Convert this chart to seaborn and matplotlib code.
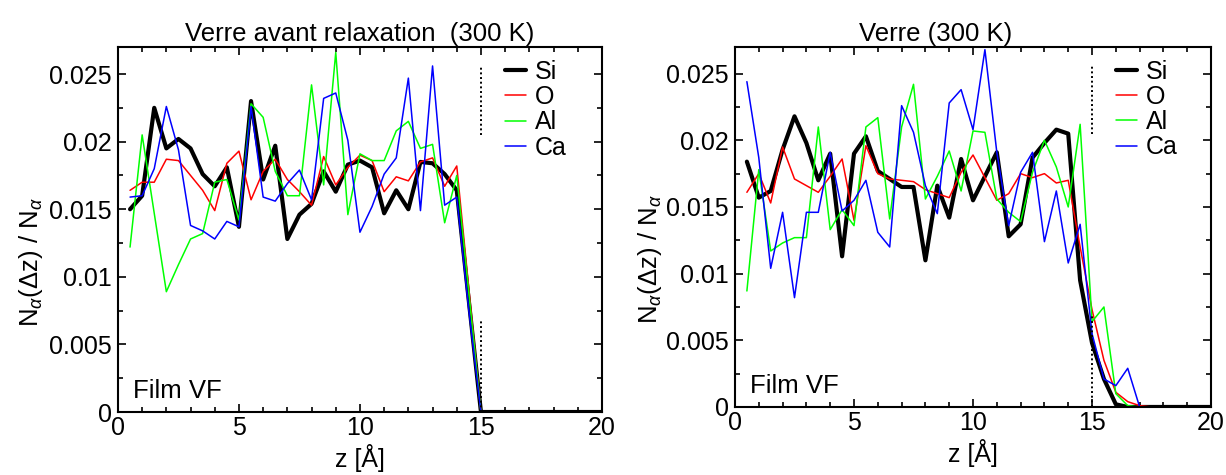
import numpy as np
import pandas as pd
import matplotlib
matplotlib.use("Agg")
import matplotlib.pyplot as plt
import seaborn as sns
from matplotlib.ticker import MultipleLocator

sns.set_theme(style="ticks")
plt.rcParams["font.family"] = ["Liberation Sans", "DejaVu Sans"]
plt.rcParams["mathtext.fontset"] = "custom"
plt.rcParams["mathtext.rm"] = "Liberation Sans"
plt.rcParams["mathtext.it"] = "Liberation Sans:italic"
plt.rcParams["text.color"] = "black"
plt.rcParams["axes.labelcolor"] = "black"
plt.rcParams["xtick.color"] = "black"
plt.rcParams["ytick.color"] = "black"

# z positions of the bins (Angstrom)
z = [0.5, 1.0, 1.5, 2.0, 2.5, 3.0, 3.5, 4.0, 4.5, 5.0,
     5.5, 6.0, 6.5, 7.0, 7.5, 8.0, 8.5, 9.0, 9.5, 10.0,
     10.5, 11.0, 11.5, 12.0, 12.5, 13.0, 13.5, 14.0, 14.5, 15.0,
     15.5, 16.0, 16.5, 17.0, 17.5, 18.0, 18.5, 19.0, 19.5, 20.0]

# left panel : verre avant relaxation
si_before = [0.0150, 0.0160, 0.0225, 0.0195, 0.0202, 0.0195, 0.0176, 0.0167, 0.0181, 0.0137,
             0.0230, 0.0172, 0.0197, 0.0128, 0.0146, 0.0154, 0.0178, 0.0163, 0.0183, 0.0186,
             0.0181, 0.0147, 0.0164, 0.0150, 0.0185, 0.0184, 0.0176, 0.0164, 0.0082, 0.0,
             0.0, 0.0, 0.0, 0.0, 0.0, 0.0, 0.0, 0.0, 0.0, 0.0]
o_before = [0.0164, 0.0170, 0.0170, 0.0187, 0.0186, 0.0175, 0.0164, 0.0149, 0.0184, 0.0193,
            0.0157, 0.0178, 0.0187, 0.0172, 0.0163, 0.0153, 0.0189, 0.0168, 0.0181, 0.0190,
            0.0186, 0.0163, 0.0174, 0.0171, 0.0185, 0.0188, 0.0167, 0.0182, 0.0091, 0.0,
            0.0, 0.0, 0.0, 0.0, 0.0, 0.0, 0.0, 0.0, 0.0, 0.0]
al_before = [0.0122, 0.0205, 0.0147, 0.0089, 0.0109, 0.0128, 0.0132, 0.0170, 0.0172, 0.0142,
             0.0228, 0.0218, 0.0178, 0.0160, 0.0160, 0.0242, 0.0168, 0.0266, 0.0146, 0.0191,
             0.0186, 0.0186, 0.0208, 0.0215, 0.0195, 0.0198, 0.0140, 0.0175, 0.0088, 0.0,
             0.0, 0.0, 0.0, 0.0, 0.0, 0.0, 0.0, 0.0, 0.0, 0.0]
ca_before = [0.0159, 0.0160, 0.0180, 0.0226, 0.0194, 0.0138, 0.0134, 0.0128, 0.0141, 0.0137,
             0.0226, 0.0159, 0.0156, 0.0169, 0.0179, 0.0157, 0.0232, 0.0236, 0.0201, 0.0133,
             0.0152, 0.0176, 0.0188, 0.0247, 0.0149, 0.0256, 0.0153, 0.0159, 0.0075, 0.0,
             0.0, 0.0, 0.0, 0.0, 0.0, 0.0, 0.0, 0.0, 0.0, 0.0]

# right panel : verre (300 K)
si_after = [0.0184, 0.0157, 0.0162, 0.0193, 0.0218, 0.0198, 0.0170, 0.0190, 0.0113, 0.0190,
            0.0203, 0.0177, 0.0171, 0.0165, 0.0165, 0.0110, 0.0166, 0.0142, 0.0186, 0.0155,
            0.0173, 0.0191, 0.0128, 0.0137, 0.0187, 0.0198, 0.0208, 0.0205, 0.0095, 0.0048,
            0.0021, 0.0002, 0.0, 0.0, 0.0, 0.0, 0.0, 0.0, 0.0, 0.0]
o_after = [0.0161, 0.0175, 0.0153, 0.0195, 0.0171, 0.0166, 0.0161, 0.0173, 0.0186, 0.0140,
           0.0196, 0.0175, 0.0171, 0.0170, 0.0169, 0.0163, 0.0160, 0.0157, 0.0176, 0.0189,
           0.0172, 0.0155, 0.0160, 0.0175, 0.0172, 0.0175, 0.0168, 0.0170, 0.0120, 0.0073,
           0.0035, 0.0011, 0.0004, 0.0001, 0.0, 0.0, 0.0, 0.0, 0.0, 0.0]
al_after = [0.0087, 0.0178, 0.0117, 0.0123, 0.0127, 0.0127, 0.0210, 0.0133, 0.0148, 0.0136,
            0.0210, 0.0217, 0.0141, 0.0210, 0.0242, 0.0156, 0.0173, 0.0192, 0.0162, 0.0207,
            0.0206, 0.0156, 0.0146, 0.0139, 0.0176, 0.0200, 0.0180, 0.0150, 0.0212, 0.0064,
            0.0075, 0.0010, 0.0001, 0.0, 0.0, 0.0, 0.0, 0.0, 0.0, 0.0]
ca_after = [0.0244, 0.0187, 0.0104, 0.0146, 0.0082, 0.0146, 0.0146, 0.0191, 0.0147, 0.0155,
            0.0170, 0.0131, 0.0120, 0.0226, 0.0206, 0.0166, 0.0145, 0.0228, 0.0238, 0.0208,
            0.0268, 0.0191, 0.0136, 0.0176, 0.0191, 0.0124, 0.0162, 0.0108, 0.0137, 0.0055,
            0.0021, 0.0016, 0.0029, 0.0, 0.0, 0.0, 0.0, 0.0, 0.0, 0.0]

elements = ["Si", "O", "Al", "Ca"]
colors = {"Si": "black", "O": "#ff0000", "Al": "#00ff00", "Ca": "#0000ff"}
widths = {"Si": 3.0, "O": 1.1, "Al": 1.1, "Ca": 1.1}

panels = [
    ("Verre avant relaxation  (300 K)", 0.5, [si_before, o_before, al_before, ca_before]),
    ("Verre (300 K)", 0.422, [si_after, o_after, al_after, ca_after]),
]
boxes = [[0.0962, 0.1326, 0.3948, 0.7684], [0.5995, 0.1432, 0.3883, 0.7579]]

fig = plt.figure(figsize=(12.26, 4.75), dpi=100)

for (title, tx, series), box in zip(panels, boxes):
    ax = fig.add_axes(box)
    df = pd.DataFrame({"z": z * 4,
                       "N": np.concatenate(series),
                       "el": np.repeat(elements, len(z))})
    for el in elements:
        sns.lineplot(data=df[df["el"] == el], x="z", y="N", color=colors[el],
                     lw=widths[el], label=el, ax=ax, sort=False, estimator=None)

    # film limits (dotted)
    ax.plot([15, 15], [0, 0.0068], color="black", lw=1.4, ls=(0, (1, 1.4)))
    ax.plot([15, 15], [0.0205, 0.0257], color="black", lw=1.4, ls=(0, (1, 1.4)))

    ax.set_xlim(0, 20)
    ax.set_ylim(0, 0.027)
    ax.xaxis.set_major_locator(MultipleLocator(5))
    ax.xaxis.set_minor_locator(MultipleLocator(1))
    ax.yaxis.set_major_locator(MultipleLocator(0.005))
    ax.yaxis.set_minor_locator(MultipleLocator(0.0025))
    ax.set_yticks([0, 0.005, 0.01, 0.015, 0.02, 0.025])
    ax.set_yticklabels(["0", "0.005", "0.01", "0.015", "0.02", "0.025"])
    ax.tick_params(which="both", direction="in", top=True, right=True,
                   width=1.2, colors="black", labelsize=18)
    ax.tick_params(which="major", length=6)
    ax.tick_params(which="minor", length=3.5)
    ax.tick_params(axis="y", pad=4.5)
    ax.tick_params(axis="x", pad=3)
    for sp in ax.spines.values():
        sp.set_linewidth(1.5)
        sp.set_color("black")

    ax.set_title(title, fontsize=18.5, pad=4, x=tx, color="black")
    ax.set_xlabel("z [Å]", fontsize=18, labelpad=3)
    ax.set_ylabel(r"N$_\alpha$($\Delta$z) / N$_\alpha$", fontsize=18.5)
    ax.yaxis.set_label_coords(-0.15, 0.41)
    ax.text(0.031, 0.038, "Film VF", transform=ax.transAxes, fontsize=18.5,
            ha="left", va="baseline", color="black")

    leg = ax.legend(loc="upper left", bbox_to_anchor=(0.80, 0.965), frameon=False,
                    fontsize=18, handlelength=0.85, handletextpad=0.35,
                    labelspacing=0.05, borderpad=0, borderaxespad=0)
    for t in leg.get_texts():
        t.set_color("black")

fig.savefig("out.png", dpi=100)
